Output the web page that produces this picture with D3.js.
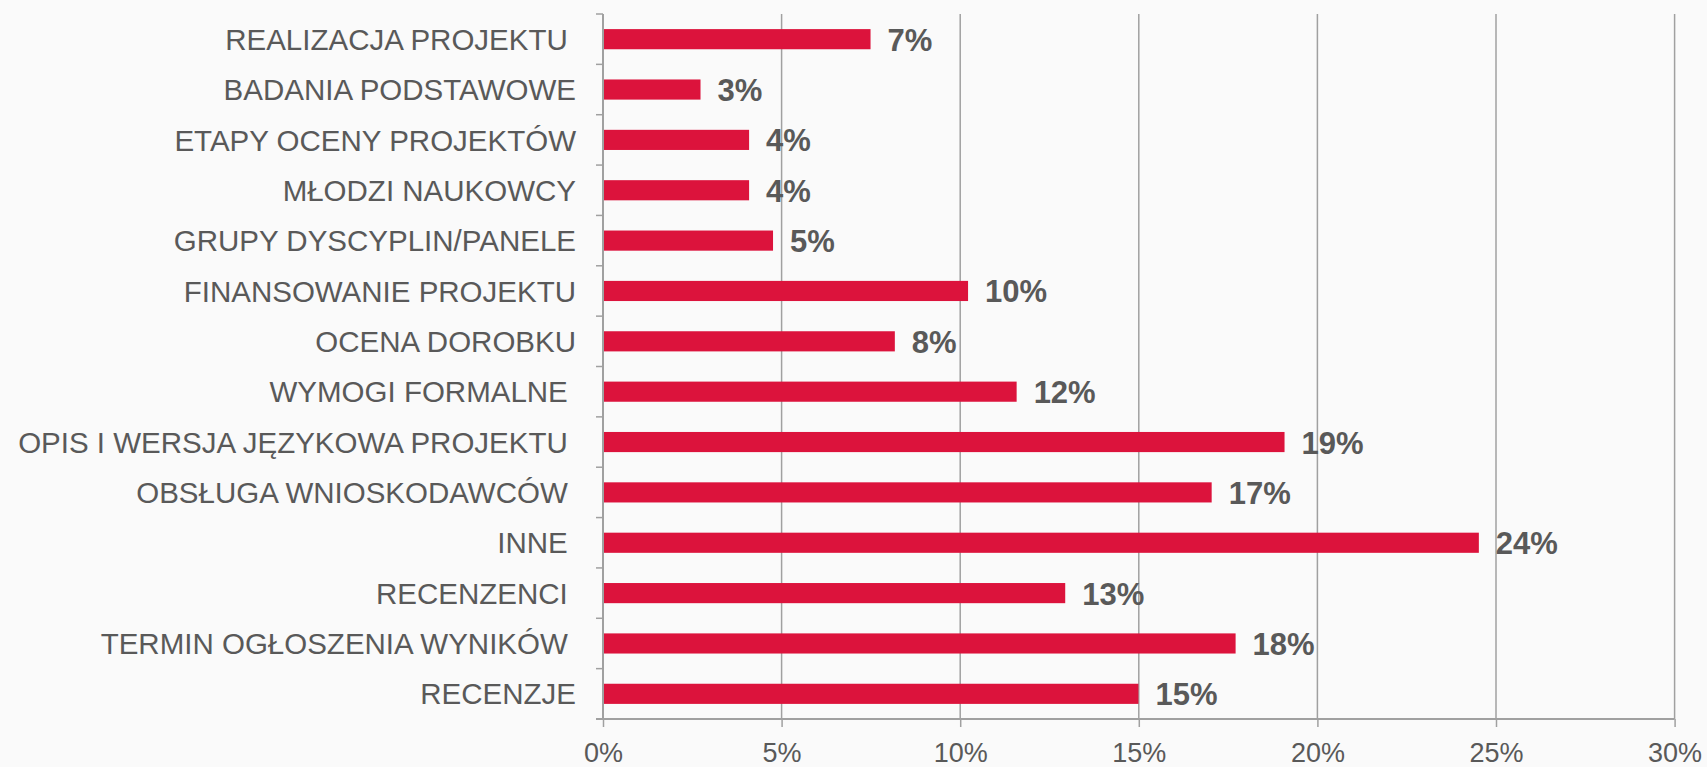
<!DOCTYPE html>
<html>
<head>
<meta charset="utf-8">
<script src="https://cdn.jsdelivr.net/npm/d3@7"></script>
<style>
  html, body { margin: 0; padding: 0; background: #fafafa; }
  svg { display: block; }
  text { font-family: "Liberation Sans", Arial, sans-serif; white-space: pre; }
</style>
</head>
<body>
<svg id="chart" width="1707" height="767"></svg>
<script>
const categories = [
  "REALIZACJA PROJEKTU ",
  "BADANIA PODSTAWOWE",
  "ETAPY OCENY PROJEKTÓW",
  "MŁODZI NAUKOWCY",
  "GRUPY DYSCYPLIN/PANELE",
  "FINANSOWANIE PROJEKTU",
  "OCENA DOROBKU",
  "WYMOGI FORMALNE ",
  "OPIS I WERSJA JĘZYKOWA PROJEKTU ",
  "OBSŁUGA WNIOSKODAWCÓW ",
  "INNE ",
  "RECENZENCI ",
  "TERMIN OGŁOSZENIA WYNIKÓW ",
  "RECENZJE"
];
const values = [7.49, 2.73, 4.09, 4.09, 4.76, 10.22, 8.17, 11.58, 19.08, 17.04, 24.52, 12.94, 17.71, 14.99];
const valueLabels = ["7%", "3%", "4%", "4%", "5%", "10%", "8%", "12%", "19%", "17%", "24%", "13%", "18%", "15%"];
const xTicks = [0, 5, 10, 15, 20, 25, 30];
const xTickLabels = ["0%", "5%", "10%", "15%", "20%", "25%", "30%"];

(function () {
const svg = d3.select("#chart");
const mLeft = 603, mRight = 1674.6, mTop = 14, mBottom = 719;
const textColor = "#595959";
const gridColor = "#a0a0a0";

const x = d3.scaleLinear().domain([0, 30]).range([mLeft, mRight]);
const y = d3.scaleBand().domain(categories).range([mTop, mBottom]).paddingInner(0.6).paddingOuter(0.3);
const yTicks = d3.scaleBand().domain(categories).range([mTop, mBottom]);

// gridlines
svg.append("g")
  .selectAll("line")
  .data(xTicks.filter(d => d > 0))
  .join("line")
  .attr("x1", d => x(d)).attr("x2", d => x(d))
  .attr("y1", mTop).attr("y2", mBottom)
  .attr("stroke", gridColor).attr("stroke-width", 1.5);

// bars
svg.append("g")
  .selectAll("rect")
  .data(values)
  .join("rect")
  .attr("x", x(0))
  .attr("y", (d, i) => y(categories[i]))
  .attr("width", d => x(d) - x(0))
  .attr("height", y.bandwidth())
  .attr("fill", "#dc133c");

// x axis
const xAxis = d3.axisBottom(x)
  .tickValues(xTicks)
  .tickFormat((d, i) => xTickLabels[i])
  .tickSize(8)
  .tickSizeOuter(0)
  .tickPadding(16);
const gx = svg.append("g").attr("transform", `translate(0,${mBottom})`).call(xAxis);
gx.select(".domain").attr("stroke", gridColor).attr("stroke-width", 2)
  .attr("d", `M${mLeft - 7},0H${mRight}`);
gx.selectAll(".tick line").attr("stroke", gridColor).attr("stroke-width", 1.5);
gx.selectAll(".tick text")
  .attr("fill", textColor)
  .attr("font-size", 27)
  .attr("font-family", "Liberation Sans, Arial, sans-serif")
  .attr("dy", null)
  .attr("y", 43);

// y axis line and ticks at band boundaries
svg.append("line")
  .attr("x1", mLeft).attr("x2", mLeft)
  .attr("y1", mTop).attr("y2", mBottom)
  .attr("stroke", gridColor).attr("stroke-width", 2);
svg.append("g")
  .selectAll("line")
  .data(categories)
  .join("line")
  .attr("x1", mLeft - 7).attr("x2", mLeft)
  .attr("y1", d => yTicks(d)).attr("y2", d => yTicks(d))
  .attr("stroke", gridColor).attr("stroke-width", 1.5);

// category labels
svg.append("g")
  .selectAll("text")
  .data(categories)
  .join("text")
  .attr("x", 576)
  .attr("y", d => yTicks(d) + yTicks.bandwidth() / 2)
  .attr("dy", "0.36em")
  .attr("text-anchor", "end")
  .attr("font-size", 29.5)
  .attr("fill", textColor)
  .text(d => d);

// value labels
svg.append("g")
  .selectAll("text")
  .data(values)
  .join("text")
  .attr("x", d => x(d) + 17)
  .attr("y", (d, i) => y(categories[i]) + y.bandwidth() / 2)
  .attr("dy", "0.37em")
  .attr("font-size", 31)
  .attr("font-weight", "bold")
  .attr("fill", textColor)
  .text((d, i) => valueLabels[i]);
})();
</script>
</body>
</html>
